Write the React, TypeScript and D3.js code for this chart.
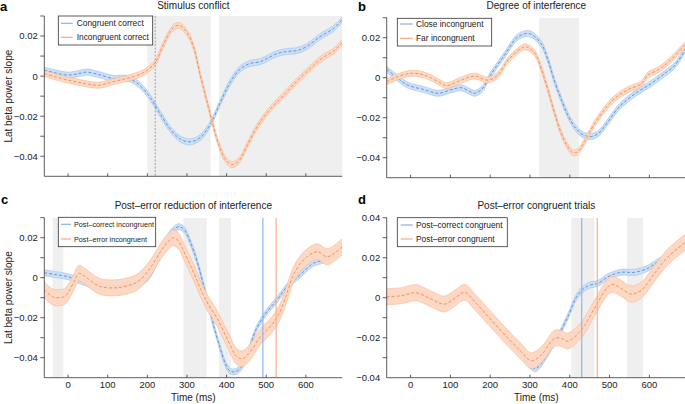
import React from 'react';
import * as d3 from 'd3';

type Pt = [number, number];

// ---------- data ----------
const TIME_TICKS = [0, 100, 200, 300, 400, 500, 600];
const X_DOMAIN: [number, number] = [-60, 692];
const Y_DOMAIN_ABC: [number, number] = [-0.05, 0.03];
const Y_DOMAIN_D: [number, number] = [-0.04, 0.04];
const Y_LABELS_ABC = [-0.04, -0.02, 0, 0.02];
const Y_LABELS_D = [-0.04, -0.02, 0, 0.02, 0.04];

const aCongruent: Pt[] = [
  [-60, 0.003], [-30, 0.0015], [0, 0.0005], [25, 0.0012], [48, 0.002], [82, 0.0005], [115, -0.0012],
  [140, -0.001], [157, -0.0015], [182, -0.0048], [207, -0.0107], [233, -0.019], [258, -0.0265],
  [284, -0.0315], [308, -0.0328], [333, -0.0307], [359, -0.024], [384, -0.0132], [409, -0.0032],
  [434, 0.0035], [459, 0.0063], [485, 0.0072], [502, 0.0088], [527, 0.0112], [552, 0.0123],
  [577, 0.0127], [602, 0.0147], [636, 0.0197], [670, 0.0238], [692, 0.0283],
];
const aIncongruent: Pt[] = [
  [-60, 0.0013], [-30, -0.0005], [0, -0.002], [25, -0.003], [50, -0.004], [80, -0.0045], [110, -0.003],
  [135, -0.0018], [157, -0.0007], [191, 0.0018], [220, 0.0068], [241, 0.016], [266, 0.0243],
  [281, 0.0252], [300, 0.0218], [317, 0.0143], [333, 0.001], [350, -0.0123], [363, -0.0223],
  [380, -0.034], [397, -0.0415], [413, -0.0442], [430, -0.0425], [451, -0.035], [472, -0.027],
  [490, -0.0215], [510, -0.0165], [544, -0.0095], [570, -0.004], [596, 0.001], [620, 0.0055],
  [645, 0.0095], [670, 0.0125], [692, 0.0168],
];

const bClose: Pt[] = [
  [-60, 0.0042], [-32, -0.0003], [-7, -0.0037], [35, -0.006], [69, -0.0078], [102, -0.006],
  [127, -0.005], [150, -0.007], [161, -0.0078], [178, -0.006], [203, 0.002], [236, 0.0113],
  [270, 0.0205], [299, 0.022], [328, 0.017], [345, 0.009], [362, -0.002], [379, -0.011],
  [395, -0.0187], [412, -0.0245], [429, -0.028], [450, -0.0295], [471, -0.028], [496, -0.022],
  [521, -0.0153], [546, -0.0107], [571, -0.007], [596, -0.004], [638, 0.002], [663, 0.006],
  [692, 0.0147],
];
const bFar: Pt[] = [
  [-60, -0.002], [-32, 0.0005], [2, 0.0022], [35, 0.0013], [77, -0.0028], [90, -0.004],
  [127, -0.0012], [161, 0.0008], [194, -0.0012], [219, 0.0013], [245, 0.0088], [278, 0.0147],
  [289, 0.0155], [312, 0.0123], [328, 0.0047], [345, -0.006], [362, -0.0178], [379, -0.028],
  [395, -0.0345], [408, -0.0375], [420, -0.037], [437, -0.032], [462, -0.023], [487, -0.016],
  [513, -0.0103], [546, -0.006], [580, -0.003], [596, 0.0013], [621, 0.0038], [647, 0.0077],
  [692, 0.017],
];

const cPostCorrect: Pt[] = [
  [-60, 0.0025], [-30, 0.0015], [0, 0.0005], [48, -0.0028], [82, -0.0045], [120, -0.004],
  [166, -0.003], [199, -0.0005], [233, 0.012], [250, 0.0197], [266, 0.024], [281, 0.0255],
  [295, 0.0235], [308, 0.018], [321, 0.011], [333, 0.003], [350, -0.0103], [367, -0.0237],
  [384, -0.0353], [397, -0.043], [409, -0.0467], [422, -0.047], [436, -0.045], [451, -0.0387],
  [476, -0.0253], [502, -0.017], [527, -0.0112], [552, -0.0045], [585, 0.0013], [619, 0.0072],
  [640, 0.0085], [665, 0.0105], [692, 0.014],
];
const cPostError: Pt[] = [
  [-60, -0.006], [-40, -0.0095], [-28, -0.01], [-10, -0.0095], [0, -0.0075], [15, -0.002],
  [27, 0.0022], [40, 0.001], [60, -0.002], [82, -0.0045], [124, -0.005], [166, -0.003],
  [182, -0.001], [207, 0.0047], [233, 0.013], [250, 0.0175], [265, 0.02], [278, 0.0185],
  [291, 0.0135], [317, 0.0025], [333, -0.005], [350, -0.012], [376, -0.0203], [401, -0.0303],
  [426, -0.0395], [440, -0.0405], [460, -0.037], [485, -0.0295], [505, -0.0255], [520, -0.022],
  [535, -0.017], [552, -0.008], [569, 0.0015], [594, 0.0088], [628, 0.013], [653, 0.0105],
  [670, 0.012], [692, 0.0155],
];

const dPostCorrect: Pt[] = [
  [-60, 0.0005], [-23, 0.0005], [14, 0.002], [52, -0.001], [85, -0.0035], [111, -0.001],
  [136, 0.0023], [161, -0.002], [203, -0.0115], [245, -0.021], [278, -0.028], [312, -0.0355],
  [328, -0.033], [350, -0.026], [370, -0.0195], [395, -0.0095], [420, 0.0013], [446, 0.006],
  [471, 0.0072], [496, 0.0105], [529, 0.0127], [563, 0.0127], [596, 0.0147], [621, 0.018],
  [650, 0.021], [692, 0.027],
];
const dPostError: Pt[] = [
  [-60, 0.0005], [-23, 0.001], [14, 0.0025], [52, -0.0007], [85, -0.0032], [111, -0.0003],
  [136, 0.0027], [161, -0.002], [203, -0.0112], [245, -0.0203], [278, -0.027], [303, -0.0315],
  [328, -0.0287], [362, -0.0203], [380, -0.0205], [395, -0.0217], [429, -0.0162], [462, -0.0053],
  [496, 0.0055], [508, 0.0067], [529, 0.0047], [554, 0.0018], [580, 0.0038], [613, 0.0122],
  [647, 0.0205], [692, 0.028],
];

// ---------- styles ----------
const FONT = '"Liberation Sans", Arial, Helvetica, sans-serif';
const BLUE = { fill: '#c9ddf5', edge: '#9ec2ee', line: '#4f8ddb', legend: '#86b3ec' };
const ORANGE = { fill: '#fdd7c1', edge: '#f8b994', line: '#ee8a55', legend: '#f6ab82' };
const AXIS = '#333';
const SHADE = '#efefef';

type Series = { name: string; data: Pt[]; hw: number; c: typeof BLUE };
type VLine = { t: number; color: string; dash?: string; width: number };
type PanelCfg = {
  id: string;
  x0: number; x1: number; y0: number; y1: number;
  yDomain: [number, number];
  yLabels: number[];
  shades: [number, number][];
  vlines: VLine[];
  series: Series[];
  legend: { x: number; y: number; w: number; h: number; rows: number[]; l0: number; l1: number; tx: number; fs: number };
  title: string; titleY: number;
  letter: string; letterX: number; letterY: number;
  yLabel: boolean; xLabels: boolean;
};

const fmt = (v: number) => {
  if (Math.abs(v) < 1e-9) return '0';
  const s = Math.abs(v).toFixed(2);
  return (v < 0 ? '\u2212' : '') + s;
};

const panels: PanelCfg[] = [
  {
    id: 'a', x0: 44.3, x1: 342.3, y0: 16, y1: 176.3, yDomain: Y_DOMAIN_ABC, yLabels: Y_LABELS_ABC,
    shades: [[200, 360], [381, 692]],
    vlines: [{ t: 220, color: '#a8a8a8', dash: '2,1.5', width: 1.1 }],
    series: [
      { name: 'Congruent correct', data: aCongruent, hw: 0.0015, c: BLUE },
      { name: 'Incongruent correct', data: aIncongruent, hw: 0.0015, c: ORANGE },
    ],
    legend: { x: 58.3, y: 16, w: 94.4, h: 29, rows: [23.3, 37.3], l0: 61, l1: 72.7, tx: 76.7, fs: 8.4 },
    title: 'Stimulus conflict', titleY: 8.5, letter: 'a', letterX: 0, letterY: 10.5,
    yLabel: true, xLabels: false,
  },
  {
    id: 'b', x0: 386.7, x1: 686, y0: 17.7, y1: 177.7, yDomain: Y_DOMAIN_ABC, yLabels: Y_LABELS_ABC,
    shades: [[323, 423]],
    vlines: [],
    series: [
      { name: 'Close incongruent', data: bClose, hw: 0.0015, c: BLUE },
      { name: 'Far incongruent', data: bFar, hw: 0.0015, c: ORANGE },
    ],
    legend: { x: 397.3, y: 18.3, w: 94.4, h: 27.7, rows: [24, 38.3], l0: 400, l1: 412.7, tx: 416, fs: 8.4 },
    title: 'Degree of interference', titleY: 8.5, letter: 'b', letterX: 358, letterY: 10.5,
    yLabel: false, xLabels: false,
  },
  {
    id: 'c', x0: 44.3, x1: 342.3, y0: 217.7, y1: 377.7, yDomain: Y_DOMAIN_ABC, yLabels: Y_LABELS_ABC,
    shades: [[-39, -12], [291, 350], [381, 411]],
    vlines: [
      { t: 491.5, color: '#8db8ee', width: 1.2 },
      { t: 525, color: '#f7b087', width: 1.2 },
    ],
    series: [
      { name: 'Post\u2013correct incongruent', data: cPostCorrect, hw: 0.0015, c: BLUE },
      { name: 'Post\u2013error incongruent', data: cPostError, hw: 0.004, c: ORANGE },
    ],
    legend: { x: 58.3, y: 217.3, w: 97.4, h: 29.4, rows: [224.3, 239], l0: 61, l1: 71, tx: 74, fs: 7.2 },
    title: 'Post\u2013error reduction of interference', titleY: 209, letter: 'c', letterX: 1, letterY: 203.5,
    yLabel: true, xLabels: true,
  },
  {
    id: 'd', x0: 386.7, x1: 686, y0: 217.7, y1: 377.7, yDomain: Y_DOMAIN_D, yLabels: Y_LABELS_D,
    shades: [[404, 462], [544, 584]],
    vlines: [
      { t: 430, color: '#8db8ee', width: 1.2 },
      { t: 469, color: '#f7b087', width: 1.2 },
    ],
    series: [
      { name: 'Post\u2013correct congruent', data: dPostCorrect, hw: 0.0015, c: BLUE },
      { name: 'Post\u2013error congruent', data: dPostError, hw: 0.004, c: ORANGE },
    ],
    legend: { x: 397.3, y: 217.7, w: 110, h: 29, rows: [225, 239], l0: 400.7, l1: 412.7, tx: 416, fs: 8.4 },
    title: 'Post\u2013error congruent trials', titleY: 209, letter: 'd', letterX: 358, letterY: 203.5,
    yLabel: false, xLabels: true,
  },
];

function Panel({ p }: { p: PanelCfg }) {
  const x = d3.scaleLinear().domain(X_DOMAIN).range([p.x0, p.x1]);
  const y = d3.scaleLinear().domain(p.yDomain).range([p.y1, p.y0]);
  const curve = d3.curveCatmullRom.alpha(0.5);
  const area = (hw: number) =>
    d3.area<Pt>().x(d => x(d[0])).y0(d => y(d[1] - hw)).y1(d => y(d[1] + hw)).curve(curve);
  const line = (off: number) => d3.line<Pt>().x(d => x(d[0])).y(d => y(d[1] + off)).curve(curve);
  const clipId = `clip-${p.id}`;
  const minorTicks = d3.range(Math.round(p.yDomain[0] * 100) + 1, Math.round(p.yDomain[1] * 100) + 1).map(v => v / 100);
  const cx = (p.x0 + p.x1) / 2;
  const L = p.legend;
  return (
    <g>
      <defs>
        <clipPath id={clipId}>
          <rect x={p.x0} y={p.y0} width={p.x1 - p.x0} height={p.y1 - p.y0} />
        </clipPath>
      </defs>
      <g clipPath={`url(#${clipId})`}>
        {p.shades.map((s, i) => (
          <rect key={i} x={x(s[0])} y={p.y0} width={x(s[1]) - x(s[0])} height={p.y1 - p.y0} fill={SHADE} />
        ))}
        {p.series.map((s, i) => (
          <g key={i}>
            <path d={area(s.hw)(s.data) || ''} fill={s.c.fill} opacity={0.95} />
            <path d={line(s.hw)(s.data) || ''} fill="none" stroke={s.c.edge} strokeWidth={0.6} />
            <path d={line(-s.hw)(s.data) || ''} fill="none" stroke={s.c.edge} strokeWidth={0.6} />
            <path d={line(0)(s.data) || ''} fill="none" stroke={s.c.line} strokeWidth={0.9} strokeDasharray="3,2" />
          </g>
        ))}
        {p.vlines.map((v, i) => (
          <line key={i} x1={x(v.t)} x2={x(v.t)} y1={p.y0} y2={p.y1} stroke={v.color} strokeWidth={v.width} strokeDasharray={v.dash} />
        ))}
      </g>
      {/* legend */}
      <rect x={L.x} y={L.y} width={L.w} height={L.h} fill="#fff" stroke={AXIS} strokeWidth={0.8} />
      {p.series.map((s, i) => (
        <g key={i}>
          <line x1={L.l0} x2={L.l1} y1={L.rows[i]} y2={L.rows[i]} stroke={s.c.legend} strokeWidth={1.2} />
          <text x={L.tx} y={L.rows[i] + L.fs * 0.36} fontSize={L.fs} fontFamily={FONT} fill="#222">{s.name}</text>
        </g>
      ))}
      {/* axes */}
      <line x1={p.x0} x2={p.x0} y1={p.y0} y2={p.y1} stroke={AXIS} strokeWidth={0.8} />
      <line x1={p.x0} x2={p.x1} y1={p.y1} y2={p.y1} stroke={AXIS} strokeWidth={0.8} />
      {minorTicks.map(v => (
        <line key={v} x1={p.x0 - 4} x2={p.x0} y1={y(v)} y2={y(v)} stroke={AXIS} strokeWidth={0.8} />
      ))}
      {p.yLabels.map(v => (
        <text key={v} x={p.x0 - 6.5} y={y(v) + 3.4} fontSize={9.5} fontFamily={FONT} textAnchor="end" fill="#222">{fmt(v)}</text>
      ))}
      {TIME_TICKS.map(t => (
        <line key={t} x1={x(t)} x2={x(t)} y1={p.y1} y2={p.y1 - 3} stroke={AXIS} strokeWidth={0.8} />
      ))}
      {p.xLabels && TIME_TICKS.map(t => (
        <text key={t} x={x(t)} y={p.y1 + 10.5} fontSize={9.5} fontFamily={FONT} textAnchor="middle" fill="#222">{t}</text>
      ))}
      {p.xLabels && (
        <text x={cx} y={p.y1 + 23.5} fontSize={10} fontFamily={FONT} textAnchor="middle" fill="#222">Time (ms)</text>
      )}
      {p.yLabel && (
        <text transform={`translate(11.5,${(p.y0 + p.y1) / 2}) rotate(-90)`} fontSize={10} fontFamily={FONT} textAnchor="middle" fill="#222">Lat beta power slope</text>
      )}
      <text x={cx} y={p.titleY} fontSize={10} fontFamily={FONT} textAnchor="middle" fill="#222">{p.title}</text>
      <text x={p.letterX} y={p.letterY} fontSize={13} fontWeight="bold" fontFamily={FONT} fill="#000">{p.letter}</text>
    </g>
  );
}

export default function App() {
  return (
    <svg width={685} height={404} style={{ position: 'absolute', left: 0, top: 0, background: '#fff' }}>
      <rect x={0} y={0} width={685} height={404} fill="#fff" />
      {panels.map(p => <Panel key={p.id} p={p} />)}
    </svg>
  );
}
